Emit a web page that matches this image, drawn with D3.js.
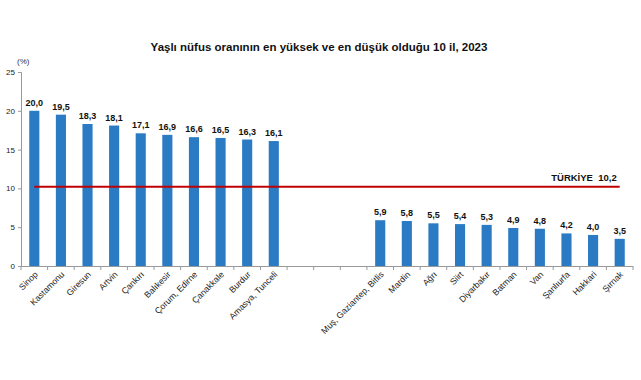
<!DOCTYPE html>
<html><head><meta charset="utf-8">
<script src="https://cdn.jsdelivr.net/npm/d3@7"></script>
<style>body{margin:0;background:#fff}svg{display:block;font-family:Arial,"Liberation Sans",sans-serif}</style>
</head><body><svg id="c" width="641" height="380"></svg>
<script>
const categories = ["Sinop","Kastamonu","Giresun","Artvin","Çankırı","Balıkesir","Çorum, Edirne","Çanakkale","Burdur","Amasya, Tunceli","","","","Muş, Gaziantep, Bitlis","Mardin","Ağrı","Siirt","Diyarbakır","Batman","Van","Şanlıurfa","Hakkari","Şırnak"];
const values = [20.0,19.5,18.3,18.1,17.1,16.9,16.6,16.5,16.3,16.1,null,null,null,5.9,5.8,5.5,5.4,5.3,4.9,4.8,4.2,4.0,3.5];
const yTicks = [0,5,10,15,20,25];
const turkiye = 10.2;
const title = "Yaşlı nüfus oranının en yüksek ve en düşük olduğu 10 il, 2023";

const svg = d3.select("#c");
const x0 = 21, x1 = 633, yBottom = 266, yTop = 72;
const keys = categories.map((c,i)=>i);
const x = d3.scaleBand().domain(keys).range([x0,x1]).paddingInner(0.62).paddingOuter(0.31);
const y = d3.scaleLinear().domain([0,25]).range([yBottom,yTop]);
const fmt = v => v.toFixed(1).replace(".", ",");

svg.append("text").attr("x",319).attr("y",51).attr("text-anchor","middle")
  .attr("font-size",11.5).attr("font-weight","bold").attr("fill","#111").text(title);
svg.append("text").attr("x",17).attr("y",64).attr("font-size",8).attr("fill","#333").text("(%)");

// y axis
const ya = svg.append("g").attr("transform",`translate(${x0},0)`)
  .call(d3.axisLeft(y).tickValues(yTicks).tickSize(3).tickFormat(d3.format("d")));
ya.select(".domain").attr("stroke","#999");
ya.selectAll(".tick line").attr("stroke","#999");
ya.selectAll(".tick text").attr("font-size",8).attr("fill","#222").attr("font-family","Arial,'Liberation Sans',sans-serif");

// bars
const data = categories.map((c,i)=>({i, c, v: values[i]})).filter(d=>d.v!=null);
svg.append("g").selectAll("rect").data(data).join("rect")
  .attr("x",d=>x(d.i)).attr("width",x.bandwidth())
  .attr("y",d=>y(d.v)).attr("height",d=>y(0)-y(d.v)).attr("fill","#2a7bc4");
svg.append("g").selectAll("text").data(data).join("text")
  .attr("x",d=>x(d.i)+x.bandwidth()/2).attr("y",d=>y(d.v)-5)
  .attr("text-anchor","middle").attr("font-size",9).attr("font-weight","bold").attr("fill","#111")
  .text(d=>fmt(d.v));

// x axis
const tickPos = d3.range(categories.length+1).map(k=>x0 + k*((x1-x0)/categories.length));
svg.append("line").attr("x1",x0).attr("x2",x1).attr("y1",yBottom+0.5).attr("y2",yBottom+0.5).attr("stroke","#999");
svg.append("g").selectAll("line").data(tickPos).join("line")
  .attr("x1",d=>d).attr("x2",d=>d).attr("y1",yBottom).attr("y2",yBottom+4).attr("stroke","#999");
svg.append("g").selectAll("text").data(data).join("text")
  .attr("transform",d=>`translate(${x(d.i)+x.bandwidth()/2+4},${yBottom+9}) rotate(-45)`)
  .attr("text-anchor","end").attr("font-size",8.7).attr("fill","#222").text(d=>d.c);

// Türkiye line
const lx1 = x(0)+x.bandwidth()/2, lx2 = x(categories.length-1)+x.bandwidth()/2;
svg.append("line").attr("x1",lx1).attr("x2",lx2).attr("y1",y(turkiye)).attr("y2",y(turkiye))
  .attr("stroke","#c00000").attr("stroke-width",2);
svg.append("text").attr("x",lx2-3).attr("y",y(turkiye)-6).attr("text-anchor","end")
  .attr("font-size",9.5).attr("font-weight","bold").attr("fill","#111")
  .attr("xml:space","preserve").style("white-space","pre").text("TÜRKİYE  " + fmt(turkiye));
</script></body></html>
